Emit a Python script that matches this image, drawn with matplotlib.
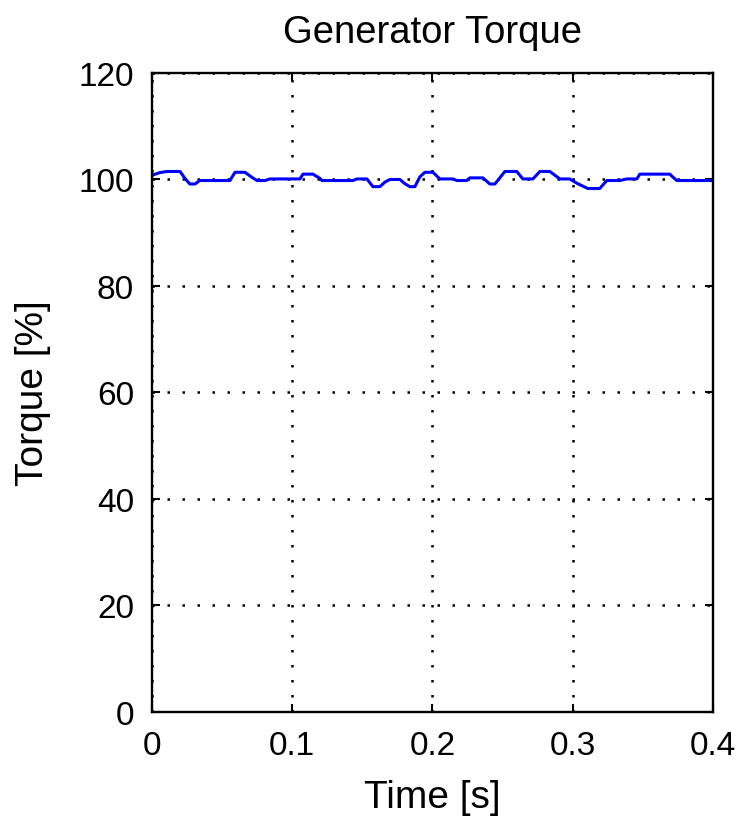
import matplotlib
matplotlib.use("Agg")
import matplotlib.pyplot as plt

time_s = [0.0, 0.0007, 0.0057, 0.0107, 0.020, 0.0235, 0.027, 0.0307, 0.034, 0.0556, 0.0592,
          0.0663, 0.0713, 0.0749, 0.0806, 0.0841, 0.1055, 0.1077, 0.1148, 0.1198, 0.1212,
          0.1433, 0.1462, 0.1533, 0.1576, 0.1626, 0.1661, 0.1697, 0.1768, 0.1804, 0.184,
          0.1875, 0.1911, 0.1947, 0.2004, 0.2053, 0.2146, 0.2175, 0.2246, 0.2267, 0.236,
          0.241, 0.2446, 0.2517, 0.2602, 0.2645, 0.2717, 0.2767, 0.2838, 0.2909, 0.298,
          0.303, 0.3109, 0.3194, 0.3244, 0.3337, 0.3387, 0.3458, 0.348, 0.3693, 0.3743, 0.4]
torque_pct = [100.6, 100.85, 101.3, 101.5, 101.5, 100.2, 99.15, 99.15, 99.8, 99.8, 101.35,
              101.35, 100.4, 99.8, 99.8, 100.1, 100.1, 101.0, 101.0, 100.2, 99.8,
              99.8, 100.1, 100.1, 98.65, 98.65, 99.5, 100.0, 100.0, 99.2, 98.65,
              98.65, 100.5, 101.35, 101.35, 100.1, 100.1, 99.8, 99.8, 100.3, 100.3,
              99.15, 99.15, 101.5, 101.5, 100.1, 100.1, 101.5, 101.5, 100.1, 100.1,
              99.3, 98.3, 98.3, 99.8, 99.8, 100.1, 100.1, 101.0, 101.0, 99.8, 99.8]
x_ticks = [0, 0.1, 0.2, 0.3, 0.4]
x_tick_labels = ["0", "0.1", "0.2", "0.3", "0.4"]
y_ticks = [0, 20, 40, 60, 80, 100, 120]

plt.rcParams['font.family'] = ['Liberation Sans', 'DejaVu Sans']
fig = plt.figure(figsize=(7.44, 8.2), dpi=100)
ax = fig.add_axes([0.2043, 0.1305, 0.7537, 0.7793])
ax.plot(time_s, torque_pct, color='#0000ff', linewidth=2.2)
ax.set_xlim(0, 0.4)
ax.set_ylim(0, 120)
ax.set_xticks(x_ticks)
ax.set_xticklabels(x_tick_labels)
ax.set_yticks(y_ticks)
ax.grid(True, color='black', linestyle=(0, (1, 5)), linewidth=1.8)
for s in ax.spines.values():
    s.set_linewidth(1.7)
ax.tick_params(direction='in', length=6, width=1.5, labelsize=24, top=True, right=True)
ax.tick_params(axis='x', pad=13)
ax.tick_params(axis='y', pad=13)
ax.set_xlabel("Time [s]", fontsize=28, labelpad=13)
ax.set_ylabel("Torque [%]", fontsize=28, labelpad=20)
ax.set_title("Generator Torque", fontsize=27.5, pad=22)
fig.savefig("out.png", dpi=100)
